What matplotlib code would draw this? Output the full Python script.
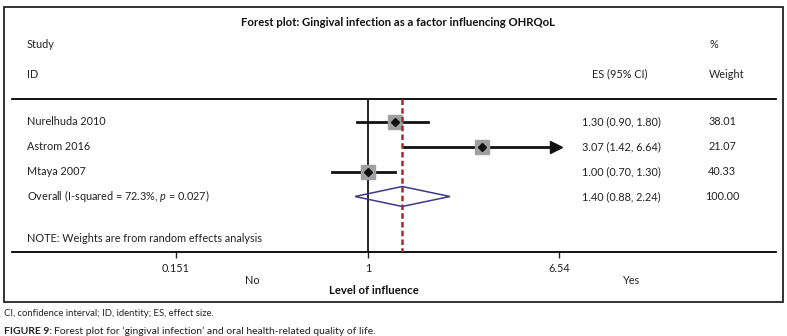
"""Forest plot: gingival infection as a factor influencing OHRQoL."""

import numpy as np
import matplotlib
matplotlib.use('Agg')
import matplotlib.pyplot as plt
from matplotlib.patches import Rectangle, Polygon

plt.rcParams['font.family'] = ['Lato', 'DejaVu Sans']
plt.rcParams['mathtext.fontset'] = 'custom'
plt.rcParams['mathtext.it'] = 'Lato:italic'
plt.rcParams['mathtext.rm'] = 'Lato'

# data
studies = ['Nurelhuda 2010', 'Astrom 2016', 'Mtaya 2007']
es = [1.30, 3.07, 1.00]
ci_low = [0.90, 1.42, 0.70]
ci_high = [1.80, 6.64, 1.30]
weights = [38.01, 21.07, 40.33]
overall = (1.40, 0.88, 2.24)
overall_weight = 100.00
overall_label = 'Overall (I-squared = 72.3%, $p$ = 0.027)'
xticks = [0.151, 1, 6.54]
xtick_labels = ['0.151', '1', '6.54']

W, H = 787, 336
fig = plt.figure(figsize=(W / 100, H / 100), dpi=100)

# plot region in pixels: x 12..776, y 99..252
ax = fig.add_axes([12 / W, 1 - 252 / H, 764 / W, 153 / H])
ax.set_xscale('log')
ppl = 101.6  # pixels per ln unit
ax.set_xlim(np.exp((12 - 368) / ppl), np.exp((776 - 368) / ppl))
ybot = 0.1 + 153 / 25
ax.set_ylim(ybot, 0.1)
ax.patch.set_alpha(0)
for s in ['left', 'right']:
    ax.spines[s].set_visible(False)
ax.spines['top'].set_linewidth(1.3)
ax.spines['bottom'].set_linewidth(1.3)
ax.set_yticks([])
ax.set_xticks(xticks)
ax.set_xticklabels(xtick_labels)
ax.xaxis.set_minor_locator(matplotlib.ticker.NullLocator())
ax.tick_params(axis='x', length=4, width=1, pad=4, labelsize=7.8, colors='#222222')

rows = np.arange(1, len(studies) + 1)
xmax_plot = 6.54
tr = ax.get_yaxis_transform()

ax.vlines(1, 0.1, ybot, color='black', lw=1.2)

for y, e, lo, hi in zip(rows, es, ci_low, ci_high):
    if hi > xmax_plot:
        ax.plot([lo, xmax_plot * 0.92], [y, y], color='#111111', lw=2)
        ax.plot(xmax_plot * 0.975, y, marker='>', ms=9, color='#111111', mec='#111111')
    else:
        ax.plot([lo, hi], [y, y], color='#111111', lw=2)
    ax.plot(e, y, marker='s', ms=10, color='#a0a0a0', mec='#a0a0a0', zorder=3)
    ax.plot(e, y, marker='D', ms=4.5, color='#111111', zorder=4)

# overall diamond
oy = len(studies) + 1
om, olo, ohi = overall
ax.add_patch(Polygon([(olo, oy), (om, oy - 0.4), (ohi, oy), (om, oy + 0.4)],
                     closed=True, fill=False, ec='#3a3a8a', lw=1.1, zorder=3))
ax.vlines(om, 0.1, ybot, color='#a52a2a', lw=1.8, linestyles=(0, (2.2, 1.3)), zorder=5)

fs = 7.8
tc = '#222222'
es_x = (582 - 12) / 764
wt_x = (722 - 12) / 764
lab_x = (27 - 12) / 764
for y, name, e, lo, hi, w in zip(rows, studies, es, ci_low, ci_high, weights):
    ax.text(lab_x, y, name, transform=tr, fontsize=fs, va='center', color=tc)
    ax.text(es_x, y, f'{e:.2f} ({lo:.2f}, {hi:.2f})', transform=tr, fontsize=fs,
            va='center', ha='left', color=tc)
    ax.text(wt_x, y, f'{w:.2f}', transform=tr, fontsize=fs, va='center', ha='center', color=tc)
ax.text(lab_x, oy, overall_label, transform=tr, fontsize=fs, va='center', color=tc)
ax.text(es_x, oy, f'{om:.2f} ({olo:.2f}, {ohi:.2f})', transform=tr, fontsize=fs,
        va='center', ha='left', color=tc)
ax.text(wt_x, oy, f'{overall_weight:.2f}', transform=tr, fontsize=fs, va='center', ha='center', color=tc)
ax.text(lab_x, 5.7, 'NOTE: Weights are from random effects analysis', transform=tr,
        fontsize=fs, va='center', color=tc)


def ftext(x, y, s, **kw):
    kw.setdefault('fontsize', fs)
    kw.setdefault('va', 'center')
    kw.setdefault('color', tc)
    fig.text(x / W, 1 - y / H, s, **kw)


ftext(398, 22, 'Forest plot: Gingival infection as a factor influencing OHRQoL',
      ha='center', fontweight='bold', fontsize=8.2, color='#111111')
ftext(27, 44, 'Study')
ftext(27, 74, 'ID')
ftext(709, 44, '%')
ftext(620, 74, 'ES (95% CI)', ha='center')
ftext(709, 74, 'Weight')
ftext(252, 281, 'No', ha='center')
ftext(632, 281, 'Yes', ha='center')
ftext(374, 290, 'Level of influence', ha='center', fontweight='bold', fontsize=8.2, color='#111111')
ftext(4, 314, 'CI, confidence interval; ID, identity; ES, effect size.', fontsize=6.8)
ftext(4, 331, 'FIGURE 9:', fontsize=7.5, fontweight='bold')
ftext(54, 331, 'Forest plot for \u2018gingival infection\u2019 and oral health-related quality of life.',
      fontsize=7.5)

# frame
fig.add_artist(Rectangle((4 / W, 1 - 302 / H), 779 / W, 295 / H, transform=fig.transFigure,
                         fill=False, ec=tc, lw=1.3))

fig.savefig('out.png', dpi=100)
